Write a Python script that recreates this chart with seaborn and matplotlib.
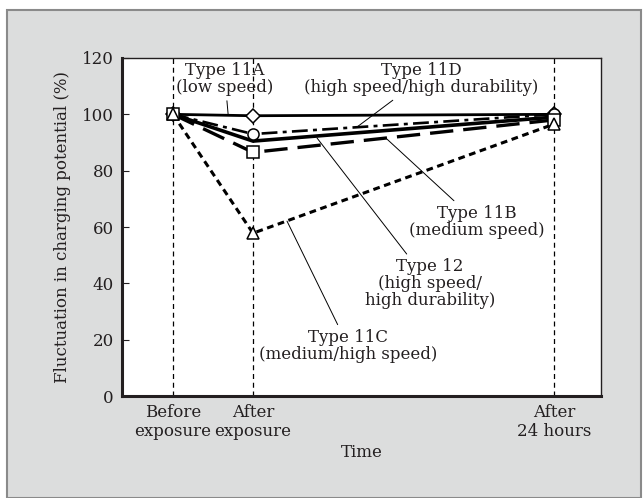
import matplotlib
matplotlib.use("Agg")
import matplotlib.pyplot as plt
import seaborn as sns
import pandas as pd
from matplotlib.patches import Rectangle

# %% Dados
tempo_pos = [0, 1, 4.76]
tempo_labels = ['Before\nexposure', 'After\nexposure', 'After\n24 hours']

tipo_11A = [100, 99.5, 100]
tipo_11D = [100, 93, 100]
tipo_12 = [100, 90.5, 99]
tipo_11B = [100, 86.5, 98]
tipo_11C = [100, 57.8, 96.5]

series = {
    'Type 11A': tipo_11A,
    'Type 11D': tipo_11D,
    'Type 12': tipo_12,
    'Type 11B': tipo_11B,
    'Type 11C': tipo_11C,
}

# estilo de cada serie: (linestyle, marker, linewidth)
estilos = {
    'Type 11A': ('-', 'D', 2.0),
    'Type 11D': ((0, (6, 2, 1.5, 2)), 'o', 1.9),
    'Type 12': ('-', None, 2.6),
    'Type 11B': ((0, (7, 3)), 's', 2.4),
    'Type 11C': ((0, (2.2, 1.5)), '^', 2.2),
}

# %% Plot
sns.set_style('ticks')
plt.rcParams['font.family'] = ['DejaVu Serif']
cor_texto = '#231f20'
plt.rcParams['text.color'] = cor_texto
plt.rcParams['axes.labelcolor'] = cor_texto
plt.rcParams['xtick.color'] = cor_texto
plt.rcParams['ytick.color'] = cor_texto
plt.rcParams['axes.edgecolor'] = cor_texto

fig = plt.figure(figsize=(6.43, 4.98), dpi=100)
fig.patch.set_facecolor('white')
fundo = Rectangle((7 / 643, 0), 634 / 643, 1 - 10 / 498, transform=fig.transFigure,
                  facecolor='#dcdddd', edgecolor='#8a8a8a', linewidth=1.5, zorder=-10)
fig.patches.append(fundo)

ax = fig.add_axes([122 / 643, 1 - 396 / 498, 479 / 643, 338 / 498])
ax.set_facecolor('white')

for x in tempo_pos:
    ax.axvline(x, color='black', linestyle=(0, (4, 3)), linewidth=0.9, zorder=1)

for nome, valores in series.items():
    ls, mk, lw = estilos[nome]
    df = pd.DataFrame({'tempo': tempo_pos, 'valor': valores})
    sns.lineplot(data=df, x='tempo', y='valor', ax=ax, color='black',
                 linewidth=lw, zorder=3)
    ax.lines[-1].set_linestyle(ls)
    if mk is not None:
        ax.plot(tempo_pos, valores, linestyle='none', marker=mk,
                markersize=8 if mk != 'D' else 7,
                markerfacecolor='white', markeredgecolor='black',
                markeredgewidth=1.1, zorder=4)

ax.set_xlim(-0.6375, 5.35)
ax.set_ylim(0, 120)
ax.set_yticks(range(0, 121, 20))
ax.set_xticks(tempo_pos)
ax.set_xticklabels(tempo_labels, fontsize=12, linespacing=1.15)
ax.tick_params(axis='x', length=0, pad=6)
ax.tick_params(axis='y', direction='in', length=5, labelsize=12, pad=6)
ax.set_xlabel('Time', fontsize=12, labelpad=3)
ax.set_ylabel('Fluctuation in charging potential (%)', fontsize=12, labelpad=8)
for lado in ['left', 'bottom']:
    ax.spines[lado].set_linewidth(2.2)
for lado in ['top', 'right']:
    ax.spines[lado].set_linewidth(1.0)

# %% Rotulos com linhas de chamada
rotulos = [
    ('Type 11A\n(low speed)', (0.65, 112.5), (0.69, 99.7)),
    ('Type 11D\n(high speed/high durability)', (3.1, 112.5), (2.3, 95.5)),
    ('Type 11B\n(medium speed)', (3.8, 61.8), (2.675, 91.2)),
    ('Type 12\n(high speed/\nhigh durability)', (3.21, 39.8), (1.8, 91.6)),
    ('Type 11C\n(medium/high speed)', (2.19, 17.7), (1.425, 62.1)),
]
for texto, pos_txt, pos_ponto in rotulos:
    ax.annotate(texto, xy=pos_ponto, xytext=pos_txt, ha='center', va='center',
                fontsize=12, linespacing=1.0,
                arrowprops=dict(arrowstyle='-', color='black', lw=0.7,
                                shrinkA=1, shrinkB=0), zorder=5)

plt.savefig('out.png', dpi=100)
